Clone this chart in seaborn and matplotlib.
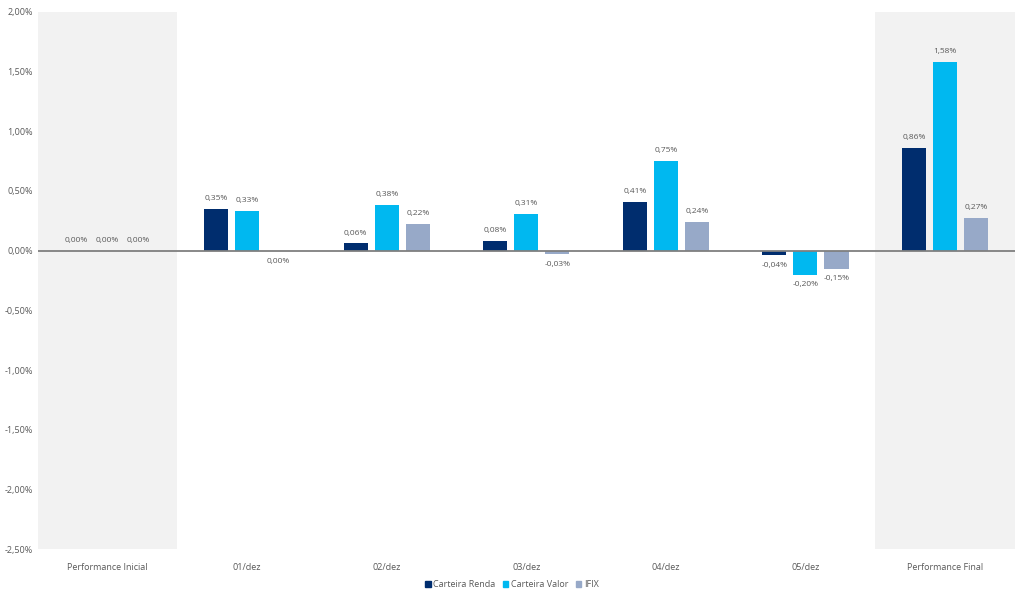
import numpy as np
import pandas as pd
import matplotlib as mpl
mpl.use('Agg')
import matplotlib.pyplot as plt
import seaborn as sns
from matplotlib.patches import Patch

categories = ["Performance Inicial", "01/dez", "02/dez", "03/dez", "04/dez", "05/dez", "Performance Final"]
series = ["Carteira Renda", "Carteira Valor", "IFIX"]
renda = [0.00, 0.35, 0.06, 0.08, 0.41, -0.04, 0.86]
valor = [0.00, 0.33, 0.38, 0.31, 0.75, -0.20, 1.58]
ifix = [0.00, -0.001, 0.22, -0.03, 0.24, -0.15, 0.27]
yticks = [2.0, 1.5, 1.0, 0.5, 0.0, -0.5, -1.0, -1.5, -2.0, -2.5]

colors = ["#002D6E", "#00B8F0", "#97A9C8"]
txt = "#595959"

df = pd.DataFrame({
    "cat": categories * 3,
    "serie": [s for s in series for _ in categories],
    "val": renda + valor + ifix,
})

sns.set_style("white")
plt.rcParams['font.family'] = ['Open Sans', 'DejaVu Sans']

fig = plt.figure(figsize=(10.24, 5.93), dpi=100)
ax = fig.add_axes([0.037, 0.074, 0.954, 0.906])

ax.axvspan(-0.5, 0.5, color="#F2F2F2", zorder=0, lw=0)
ax.axvspan(5.5, 6.5, color="#F2F2F2", zorder=0, lw=0)

sns.barplot(data=df, x="cat", y="val", hue="serie", order=categories, hue_order=series,
            palette=colors, width=0.667, gap=0.225, saturation=1, ax=ax, legend=False,
            linewidth=0, zorder=2)

ax.axhline(0, color="#7F7F7F", lw=1.3, zorder=3)

for cont in ax.containers:
    for i, bar in enumerate(cont):
        v = bar.get_height()
        xc = bar.get_x() + bar.get_width() / 2
        lab = "0,00%" if abs(v) < 0.005 else f"{v:.2f}%".replace(".", ",")
        if v < 0 or (abs(v) < 0.005 and i > 0):
            ax.annotate(lab, (xc, min(v, 0)), xytext=(0, -5), textcoords="offset points",
                        ha="center", va="top", fontsize=6, color=txt)
        else:
            ax.annotate(lab, (xc, v), xytext=(0, 5), textcoords="offset points",
                        ha="center", va="bottom", fontsize=6, color=txt)

ax.set_xlim(-0.5, 6.5)
ax.set_ylim(-2.5, 2.0)
ax.set_yticks(yticks)
ax.set_yticklabels([f"{t:.2f}%".replace(".", ",") for t in yticks])
ax.set_xlabel("")
ax.set_ylabel("")
ax.tick_params(axis="both", length=0, labelsize=6.5, colors=txt)
ax.tick_params(axis="x", pad=10)
for s in ax.spines.values():
    s.set_visible(False)

handles = [Patch(color=c, label=s) for c, s in zip(colors, series)]
fig.legend(handles=handles, loc="center", bbox_to_anchor=(0.5, 0.014), ncol=3, frameon=False,
           fontsize=6.5, handlelength=0.6, handleheight=0.6, handletextpad=0.3, columnspacing=0.8,
           labelcolor=txt)

fig.savefig("out.png", dpi=100)
